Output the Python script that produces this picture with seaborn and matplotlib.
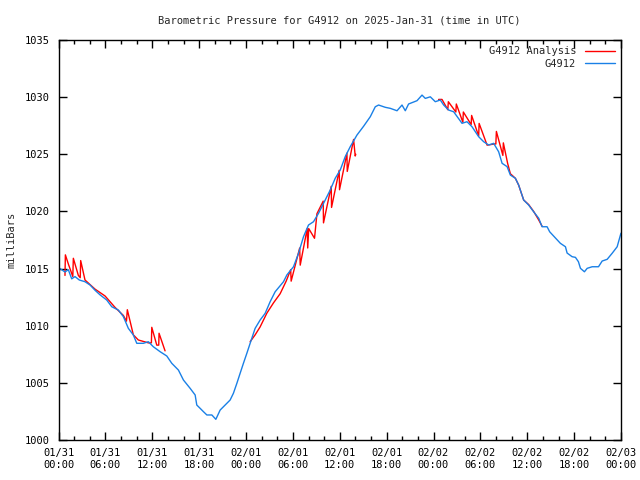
import pandas as pd
import seaborn as sns
import matplotlib.pyplot as plt
import matplotlib.dates as mdates

# hours after 2025-01-31 00:00 UTC and pressure in millibars
blue_hours = [0.0, 0.19, 0.83, 1.26, 1.69, 2.11, 2.66, 3.39, 4.04, 4.68,
              5.32, 6.17, 6.82, 7.66, 8.30, 8.94, 9.58, 10.02, 10.86, 11.50,
              12.14, 13.00, 13.86, 14.50, 15.35, 15.99, 16.85, 17.49, 17.70, 18.13,
              18.55, 18.99, 19.63, 20.14, 20.69, 21.33, 21.97, 22.39, 22.83, 23.25,
              23.67, 24.11, 24.53, 25.17, 25.81, 26.45, 27.09, 27.73, 28.80, 29.23,
              30.08, 30.72, 31.36, 32.00, 32.64, 33.28, 33.92, 34.78, 35.42, 36.06,
              36.70, 37.34, 38.20, 39.05, 39.91, 40.55, 40.97, 41.83, 42.47, 43.33,
              43.97, 44.39, 44.81, 45.89, 46.53, 46.95, 47.59, 48.23, 48.87, 49.30,
              49.94, 50.58, 51.65, 52.29, 52.93, 53.78, 54.42, 55.06, 55.70, 56.34,
              56.78, 57.42, 57.84, 58.48, 58.90, 59.54, 60.18, 60.82, 61.47, 61.90,
              62.54, 62.87, 64.24, 64.89, 65.10, 65.74, 66.17, 66.55, 66.81, 67.32,
              67.67, 68.31, 69.12, 69.59, 70.23, 70.87, 71.51, 71.93, 72.0]
blue_mbar = [1015.1, 1015.0, 1014.7, 1014.9, 1014.1, 1014.3, 1014.0, 1013.85, 1013.56, 1013.1,
             1012.7, 1012.25, 1011.66, 1011.37, 1010.8, 1009.77, 1009.19, 1008.46, 1008.46, 1008.6,
             1008.16, 1007.73, 1007.35, 1006.71, 1006.12, 1005.25, 1004.52, 1003.94, 1003.06, 1002.77,
             1002.48, 1002.19, 1002.19, 1001.81, 1002.62, 1003.06, 1003.5, 1004.09, 1004.96, 1005.84,
             1006.71, 1007.59, 1008.46, 1009.77, 1010.5, 1011.08, 1012.1, 1012.97, 1013.85, 1014.44,
             1015.16, 1016.33, 1017.79, 1018.81, 1019.1, 1019.83, 1020.7, 1021.87, 1022.9, 1023.62,
             1024.79, 1025.66, 1026.68, 1027.45, 1028.29, 1029.16, 1029.31, 1029.11, 1029.02, 1028.81,
             1029.31, 1028.81, 1029.4, 1029.69, 1030.18, 1029.89, 1030.03, 1029.6, 1029.75, 1029.31,
             1028.87, 1028.72, 1027.71, 1027.85, 1027.41, 1026.54, 1026.1, 1025.81, 1025.96, 1025.22,
             1024.21, 1023.92, 1023.18, 1022.9, 1022.31, 1021.0, 1020.56, 1019.97, 1019.4, 1018.66,
             1018.66, 1018.22, 1017.21, 1016.91, 1016.36, 1016.04, 1015.98, 1015.6, 1015.02, 1014.72,
             1015.02, 1015.16, 1015.16, 1015.66, 1015.81, 1016.34, 1016.91, 1017.94, 1018.1]

# analysis series, three separate stretches
red1_hours = [0.83, 0.88, 1.26, 1.83, 1.90, 2.54, 2.78, 2.84, 3.39, 4.68, 5.96, 7.24,
              8.30, 8.70, 8.81, 9.58, 10.22, 11.50, 11.89, 11.94, 12.58, 12.83, 12.87, 13.64]
red1_mbar = [1014.4, 1016.2, 1015.4, 1014.3, 1015.9, 1014.4, 1014.2, 1015.7, 1014.0, 1013.2, 1012.6, 1011.6,
             1010.9, 1010.4, 1011.4, 1009.2, 1008.75, 1008.5, 1008.5, 1009.86, 1008.3, 1008.3, 1009.34, 1007.8]
red2_hours = [24.53, 25.17, 25.81, 26.67, 27.52, 28.37, 29.14, 29.72, 29.78, 30.87, 30.94, 31.83,
              31.90, 32.03, 32.77, 33.08, 33.88, 33.92, 34.91, 34.95, 35.93, 35.97, 36.92, 36.96,
              37.77, 37.98, 38.05]
red2_mbar = [1008.6, 1009.2, 1009.9, 1011.1, 1012.0, 1012.8, 1013.9, 1014.9, 1013.9, 1016.8, 1015.3, 1018.5,
             1016.8, 1018.5, 1017.65, 1019.8, 1020.9, 1019.0, 1022.2, 1020.35, 1023.6, 1021.9, 1025.1, 1023.5,
             1026.3, 1024.85, 1025.0]
red3_hours = [48.65, 49.09, 49.83, 49.90, 50.86, 50.92, 51.76, 51.82, 52.82, 52.88, 53.78, 53.84,
              54.86, 55.79, 55.98, 56.05, 56.88, 56.94, 57.49, 57.84, 58.48, 58.90, 59.54, 60.18,
              60.82, 61.47, 61.90]
red3_mbar = [1029.8, 1029.8, 1028.9, 1029.6, 1028.7, 1029.4, 1027.8, 1028.7, 1027.6, 1028.4, 1026.6, 1027.7,
             1025.8, 1025.9, 1025.9, 1027.0, 1024.9, 1026.0, 1024.2, 1023.3, 1022.9, 1022.3, 1021.0, 1020.6,
             1020.0, 1019.25, 1018.7]

start = pd.Timestamp("2025-01-31 00:00")

def frame(hours, mbar):
    return pd.DataFrame({"time": start + pd.to_timedelta(hours, unit="h"), "mbar": mbar})

sns.set_style("ticks")
plt.rcParams['font.family'] = ['DejaVu Sans Mono']
plt.rcParams['font.size'] = 7.5

fig = plt.figure(figsize=(6.4, 4.8), dpi=100)
ax = fig.add_axes([58.5 / 640, 40 / 480, (621 - 58.5) / 640, 400 / 480])

red_segments = [(red1_hours, red1_mbar), (red2_hours, red2_mbar), (red3_hours, red3_mbar)]
for i, (h, m) in enumerate(red_segments):
    sns.lineplot(data=frame(h, m), x="time", y="mbar", color="#ff0000", lw=1.0,
                 label="G4912 Analysis" if i == 0 else None, ax=ax, sort=False)

sns.lineplot(data=frame(blue_hours, blue_mbar), x="time", y="mbar", color="#1a80e6", lw=1.0,
             label="G4912", ax=ax, sort=False)

ax.set_xlim(start, start + pd.Timedelta(hours=72))
ax.set_ylim(1000, 1035)
ax.set_yticks(range(1000, 1036, 5))

ax.xaxis.set_major_locator(mdates.HourLocator(byhour=[0, 6, 12, 18]))
ax.xaxis.set_minor_locator(mdates.HourLocator(interval=2))
ax.xaxis.set_major_formatter(mdates.DateFormatter("%m/%d\n%H:%M"))

ax.tick_params(which="both", direction="in", top=True, right=True, width=1, colors="black",
               labelsize=7.5)
ax.tick_params(which="major", length=6, pad=6)
ax.tick_params(which="minor", length=3)
for s in ax.spines.values():
    s.set_visible(True)
    s.set_color("black")
    s.set_linewidth(1)

ax.set_xlabel("")
ax.set_ylabel("milliBars", fontsize=7.5, labelpad=6)
ax.set_title("Barometric Pressure for G4912 on 2025-Jan-31 (time in UTC)", fontsize=7.5, pad=12)

ax.legend(loc="upper right", frameon=False, markerfirst=False, fontsize=7.5,
          handlelength=2.9, handletextpad=0.8, labelspacing=0.25, borderaxespad=0.2)

fig.savefig("out.png", dpi=100)
